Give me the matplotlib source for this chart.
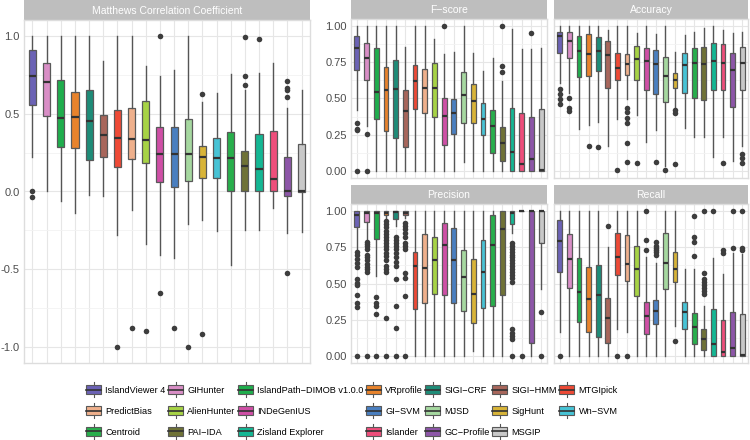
import matplotlib
matplotlib.use("Agg")
import matplotlib.pyplot as plt
from matplotlib.patches import Patch, Rectangle
from matplotlib.lines import Line2D
from matplotlib.legend_handler import HandlerBase
from matplotlib.ticker import MultipleLocator

plt.rcParams['font.family'] = ['Liberation Sans', 'DejaVu Sans']

tools = ['IslandViewer 4', 'GIHunter', 'IslandPath-DIMOB v1.0.0', 'VRprofile', 'SIGI-CRF',
         'SIGI-HMM', 'MTGIpick', 'PredictBias', 'AlienHunter', 'INDeGenIUS', 'GI-SVM',
         'MJSD', 'SigHunt', 'Wn-SVM', 'Centroid', 'PAI-IDA', 'Zisland Explorer',
         'Islander', 'GC-Profile', 'MSGIP']
colors = ['#6B62B5', '#D98EC6', '#1FAE4D', '#E8832C', '#1E8C78', '#A8665B', '#EE4A36',
          '#EFB08C', '#A7D345', '#CF4FA6', '#4A7FC0', '#A6D8A0', '#D8B438', '#47C3D5',
          '#28AF4C', '#6F7236', '#14B794', '#EE4E7B', '#8D56A8', '#C8C8C8']

# (whisker low, q1, median, q3, whisker high) per tool, plus outliers
mcc_box = [(0.22, 0.556, 0.74, 0.905, 1.0), (0.0, 0.484, 0.70, 0.825, 1.0),
           (-0.063, 0.285, 0.471, 0.712, 1.0), (-0.137, 0.281, 0.476, 0.64, 1.0),
           (-0.02, 0.205, 0.455, 0.653, 1.0), (-0.032, 0.222, 0.36, 0.493, 0.84),
           (-0.281, 0.159, 0.342, 0.52, 1.0), (-0.12, 0.209, 0.338, 0.533, 1.0),
           (-0.334, 0.182, 0.332, 0.581, 0.803), (-0.41, 0.059, 0.243, 0.414, 0.744),
           (-0.424, 0.027, 0.243, 0.412, 0.778), (-0.211, 0.068, 0.239, 0.463, 1.0),
           (-0.18, 0.085, 0.222, 0.292, 0.571), (-0.254, 0.087, 0.214, 0.345, 0.634),
           (-0.473, 0.0, 0.214, 0.38, 0.755), (-0.247, 0.0, 0.163, 0.262, 0.649),
           (-0.249, 0.0, 0.144, 0.37, 0.757), (-0.106, 0.0, 0.078, 0.391, 0.825),
           (-0.264, -0.032, 0.0, 0.222, 0.535), (-0.258, -0.006, 0.0, 0.307, 0.651)]
mcc_out = [[0.0, -0.034], [], [], [], [], [], [-1.0], [-0.877], [-0.897], [1.0, -0.654],
           [-0.877], [-1.0], [0.626, -0.914], [], [], [0.994, 0.738, 0.681], [0.977], [],
           [0.708, 0.666, 0.652, 0.603, -0.52], []]

fscore_box = [(0.418, 0.699, 0.847, 0.934, 1.0), (0.31, 0.63, 0.783, 0.881, 1.0),
              (0.0, 0.361, 0.548, 0.847, 1.0), (0.0, 0.274, 0.559, 0.715, 1.0),
              (0.0, 0.224, 0.566, 0.763, 1.0), (0.0, 0.162, 0.413, 0.559, 0.858),
              (0.0, 0.427, 0.619, 0.733, 1.0), (0.0, 0.402, 0.575, 0.701, 1.0),
              (0.0, 0.374, 0.575, 0.744, 0.911), (0.0, 0.178, 0.381, 0.502, 0.808),
              (0.0, 0.251, 0.397, 0.498, 0.82), (0.059, 0.333, 0.523, 0.683, 1.0),
              (0.0, 0.329, 0.482, 0.603, 0.813), (0.0, 0.249, 0.361, 0.47, 0.692),
              (0.0, 0.121, 0.308, 0.42, 0.783), (0.0, 0.066, 0.192, 0.306, 0.62),
              (0.0, 0.0, 0.132, 0.436, 0.979), (0.0, 0.0, 0.048, 0.397, 0.84),
              (0.0, 0.0, 0.082, 0.374, 0.842), (0.0, 0.0, 0.003, 0.429, 0.847)]
fscore_out = [[0.333, 0.292, 0.281, 0.0], [0.256, 0.0], [], [], [], [], [], [], [], [1.0],
              [], [], [], [], [], [1.0, 0.728, 0.683], [], [], [0.95], []]

acc_box = [(0.607, 0.817, 0.932, 0.961, 1.0), (0.539, 0.783, 0.897, 0.957, 1.0),
           (0.288, 0.648, 0.831, 0.934, 1.0), (0.317, 0.658, 0.806, 0.943, 1.0),
           (0.338, 0.687, 0.831, 0.927, 1.0), (0.174, 0.573, 0.801, 0.9, 0.973),
           (0.361, 0.63, 0.71, 0.817, 1.0), (0.498, 0.664, 0.737, 0.806, 1.0),
           (0.386, 0.626, 0.772, 0.863, 0.954), (0.2, 0.557, 0.76, 0.852, 1.0),
           (0.281, 0.534, 0.74, 0.836, 0.943), (0.03, 0.475, 0.653, 0.785, 1.0),
           (0.436, 0.573, 0.63, 0.676, 0.82), (0.299, 0.539, 0.733, 0.813, 0.938),
           (0.235, 0.505, 0.749, 0.852, 0.961), (0.231, 0.493, 0.74, 0.856, 0.989),
           (0.098, 0.562, 0.756, 0.881, 1.0), (0.235, 0.562, 0.744, 0.877, 0.977),
           (0.071, 0.443, 0.699, 0.817, 0.95), (0.174, 0.557, 0.749, 0.854, 0.96)]
acc_out = [[0.566, 0.532, 0.498, 0.463], [0.5, 0.436, 0.413], [], [0.174], [0.162], [],
           [0.002], [0.436, 0.406, 0.368, 0.329, 0.189, 0.064], [0.055], [], [0.064],
           [0.002], [0.418, 0.4, 0.048], [], [], [], [], [0.055], [], [0.116, 0.087, 0.055]]

prec_box = [(0.724, 0.89, 0.977, 1.0, 1.0), (0.809, 0.924, 0.989, 1.0, 1.0),
            (0.552, 0.809, 0.989, 1.0, 1.0), (0.943, 0.977, 0.989, 1.0, 1.0),
            (0.897, 0.943, 0.995, 1.0, 1.0), (0.954, 0.977, 0.989, 1.0, 1.0),
            (0.0, 0.322, 0.621, 0.72, 1.0), (0.0, 0.368, 0.609, 0.844, 1.0),
            (0.0, 0.425, 0.662, 0.823, 1.0), (0.0, 0.418, 0.763, 0.92, 1.0),
            (0.0, 0.368, 0.66, 0.883, 1.0), (0.0, 0.31, 0.547, 0.731, 1.0),
            (0.034, 0.23, 0.425, 0.671, 1.0), (0.0, 0.333, 0.579, 0.8, 1.0),
            (0.0, 0.345, 0.763, 0.972, 1.0), (0.0, 0.418, 0.874, 1.0, 1.0),
            (0.846, 0.913, 0.989, 1.0, 1.0), (1.0, 1.0, 1.0, 1.0, 1.0),
            (0.0, 0.087, 1.0, 1.0, 1.0), (0.46, 0.78, 1.0, 1.0, 1.0)]
prec_out = [[0.717, 0.694, 0.671, 0.644, 0.616, 0.529, 0.506, 0.487, 0.418, 0.363, 0.34, 0.0],
            [0.79, 0.775, 0.76, 0.74, 0.70, 0.68, 0.66, 0.635, 0.615, 0.6, 0.58, 0.0],
            [0.409, 0.368, 0.345, 0.287, 0.0],
            [0.93, 0.91, 0.89, 0.86, 0.84, 0.82, 0.80, 0.78, 0.76, 0.74, 0.71, 0.69, 0.66,
             0.62, 0.6, 0.58, 0.264, 0.0],
            [0.82, 0.80, 0.78, 0.76, 0.74, 0.71, 0.68, 0.65, 0.62, 0.529, 0.345, 0.195, 0.0],
            [0.92, 0.9, 0.88, 0.85, 0.82, 0.78, 0.76, 0.74, 0.575, 0.54, 0.414, 0.0],
            [], [], [], [], [], [], [], [], [], [],
            [0.78, 0.76, 0.74, 0.72, 0.70, 0.68, 0.66, 0.64, 0.62, 0.60, 0.58, 0.56, 0.54,
             0.51, 0.184, 0.161, 0.138, 0.115, 0.0],
            [0.0], [], [0.3, 0.0]]

rec_box = [(0.167, 0.58, 0.791, 0.936, 1.0), (0.0, 0.472, 0.672, 0.844, 1.0),
           (0.0, 0.232, 0.443, 0.674, 1.0), (0.0, 0.163, 0.392, 0.612, 1.0),
           (0.0, 0.133, 0.42, 0.628, 1.0), (0.0, 0.089, 0.264, 0.397, 0.752),
           (0.186, 0.562, 0.686, 0.851, 1.0), (0.163, 0.514, 0.633, 0.833, 1.0),
           (0.0, 0.411, 0.603, 0.759, 1.0), (0.0, 0.151, 0.278, 0.369, 0.686),
           (0.0, 0.218, 0.31, 0.385, 0.64), (0.0, 0.461, 0.644, 0.851, 1.0),
           (0.209, 0.507, 0.603, 0.72, 1.0), (0.0, 0.186, 0.305, 0.369, 0.599),
           (0.0, 0.083, 0.202, 0.296, 0.599), (0.0, 0.037, 0.117, 0.186, 0.346),
           (0.0, 0.0, 0.078, 0.323, 0.679), (0.0, 0.0, 0.025, 0.248, 0.564),
           (0.0, 0.0, 0.053, 0.3, 0.709), (0.0, 0.0, 0.007, 0.289, 0.702)]
rec_out = [[0.0], [], [], [], [], [0.901], [0.0], [0.0], [], [1.0, 0.798, 0.729],
           [0.787, 0.76, 0.745, 0.73, 0.715, 0.70], [], [0.103], [],
           [0.966, 0.823, 0.787, 0.69], [1.0, 0.576, 0.53, 0.51, 0.49, 0.47, 0.45, 0.43],
           [1.0], [0.732, 0.713], [1.0, 0.748], [1.0, 0.748, 0.729]]

W, H = 750, 440
fig = plt.figure(figsize=(7.5, 4.4), dpi=100)


def px_axes(x0, y0, x1, y1):
    return fig.add_axes([x0 / W, 1 - y1 / H, (x1 - x0) / W, (y1 - y0) / H])


def panel(x0, x1, strip_top, strip_bot, bottom, title, boxes, outs, ylim, major, minor, labels):
    st = px_axes(x0, strip_top, x1, strip_bot)
    st.set_facecolor('#BEBEBE')
    st.set_xticks([]); st.set_yticks([])
    for s in st.spines.values():
        s.set_visible(False)
    st.text(0.5, 0.45, title, color='white', fontsize=7.5, ha='center', va='center',
            transform=st.transAxes)

    ax = px_axes(x0, strip_bot, x1, bottom)
    stats = []
    for b, o in zip(boxes, outs):
        stats.append(dict(whislo=b[0], q1=b[1], med=b[2], q3=b[3], whishi=b[4], fliers=o))
    bp = ax.bxp(stats, positions=range(1, len(stats) + 1), widths=0.5, patch_artist=True,
                showcaps=False,
                boxprops=dict(edgecolor='#595959', linewidth=0.9),
                medianprops=dict(color='#333333', linewidth=1.6),
                whiskerprops=dict(color='#555555', linewidth=1.0),
                flierprops=dict(marker='o', markerfacecolor='#3d3d3d',
                                markeredgecolor='none', markersize=4))
    for patch, c in zip(bp['boxes'], colors):
        patch.set_facecolor(c)
    ax.set_xlim(0.4, len(stats) + 0.6)
    ax.set_ylim(*ylim)
    ax.set_xticks(range(1, len(stats) + 1))
    ax.set_xticklabels([])
    ax.yaxis.set_major_locator(MultipleLocator(major))
    ax.yaxis.set_minor_locator(MultipleLocator(minor))
    ax.grid(True, which='major', color='#E6E6E6', linewidth=0.8, zorder=0)
    ax.grid(True, which='minor', axis='y', color='#F2F2F2', linewidth=0.6, zorder=0)
    ax.set_axisbelow(True)
    ax.tick_params(length=0, which='both', labelsize=8, labelcolor='#4D4D4D', pad=3)
    if not labels:
        ax.set_yticklabels([])
    for s in ax.spines.values():
        s.set_color('#DDDDDD')
        s.set_linewidth(1.0)
    return ax


ax_mcc = panel(24, 310, 0, 20, 363, 'Matthews Correlation Coefficient', mcc_box, mcc_out,
               (-1.1, 1.1), 0.5, 0.25, True)
ax_mcc.yaxis.set_major_formatter(plt.FuncFormatter(lambda v, p: '%.1f' % v))
ax_f = panel(351, 547, 0, 19, 178, 'F\u2212score', fscore_box, fscore_out,
             (-0.05, 1.05), 0.25, 0.125, True)
ax_a = panel(554, 748, 0, 19, 178, 'Accuracy', acc_box, acc_out,
             (-0.05, 1.05), 0.25, 0.125, False)
ax_p = panel(351, 547, 185, 204, 363, 'Precision', prec_box, prec_out,
             (-0.05, 1.05), 0.25, 0.125, True)
ax_r = panel(554, 748, 185, 204, 363, 'Recall', rec_box, rec_out,
             (-0.05, 1.05), 0.25, 0.125, False)
for a in (ax_f, ax_p):
    a.yaxis.set_major_formatter(plt.FuncFormatter(lambda v, p: '%.2f' % v))


class BoxKey(HandlerBase):
    def create_artists(self, legend, orig_handle, xdescent, ydescent, width, height,
                       fontsize, trans):
        x0, y0 = -xdescent, -ydescent
        cx = x0 + width / 2
        whisk = Line2D([cx, cx], [y0 - 0.4 * height, y0 + 1.4 * height],
                       color='#555555', lw=0.8, transform=trans)
        box = Rectangle((x0, y0), width, height, facecolor=orig_handle.get_facecolor(),
                        edgecolor='#595959', lw=0.8, transform=trans)
        med = Line2D([x0, x0 + width], [y0 + height / 2] * 2, color='#333333', lw=1.2,
                     transform=trans)
        return [whisk, box, med]


# legend reads row-wise in the reference; matplotlib fills columns
ncol = 7
order = []
for j in range(ncol):
    for i in range(3):
        k = j + ncol * i
        if k < len(tools):
            order.append(k)
handles = [Patch(facecolor=colors[k]) for k in order]
labels = [tools[k].replace('-', '\u2212') for k in order]
fig.legend(handles, labels, ncol=ncol, loc='center', bbox_to_anchor=(352 / W, 1 - 411 / H),
           frameon=False, fontsize=6.6, handler_map={Patch: BoxKey()},
           handlelength=1.65, handleheight=1.05, handletextpad=0.45,
           columnspacing=0.25, labelspacing=1.25, borderpad=0.2)

fig.savefig('out.png', dpi=100)
